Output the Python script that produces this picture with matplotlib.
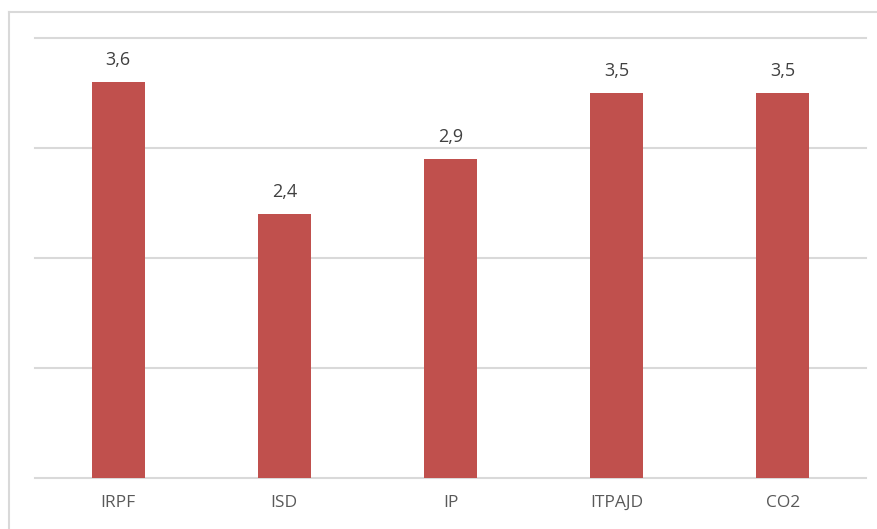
import matplotlib.pyplot as plt
from matplotlib.lines import Line2D

categories = ["IRPF", "ISD", "IP", "ITPAJD", "CO2"]
values = [3.6, 2.4, 2.9, 3.5, 3.5]
value_labels = ["3,6", "2,4", "2,9", "3,5", "3,5"]

plt.rcParams["font.family"] = ["Open Sans", "DejaVu Sans"]
W, H = 878, 529
fig = plt.figure(figsize=(W / 100, H / 100), dpi=100)
ax = fig.add_axes([35 / W, 1 - 478 / H, (866 - 35) / W, (478 - 38) / H])

# outer chart border: only left and top edges are visible
bx, by = 8.5 / W, 1 - 11.5 / H
fig.add_artist(Line2D([bx, bx], [0, by], transform=fig.transFigure, color="#d9d9d9", lw=1.5))
fig.add_artist(Line2D([bx, 1], [by, by], transform=fig.transFigure, color="#d9d9d9", lw=1.5))

x = range(len(categories))
bars = ax.bar(x, values, width=0.32, color="#C0504D", zorder=3)
for b, lab in zip(bars, value_labels):
    ax.text(b.get_x() + b.get_width() / 2, b.get_height() + 0.12, lab,
            ha="center", va="bottom", fontsize=13, color="#404040")

ax.set_xlim(-0.5, len(categories) - 0.5)
ax.set_ylim(0, 4)
ax.set_yticks([0, 1, 2, 3, 4])
ax.set_yticklabels([])
ax.set_xticks(list(x))
ax.set_xticklabels(categories, fontsize=12.5, color="#595959")
ax.tick_params(axis="both", length=0)
ax.tick_params(axis="x", pad=12)
ax.grid(axis="y", color="#d9d9d9", linewidth=1.5, zorder=0)
for gl in ax.get_ygridlines():
    gl.set_clip_on(False)
for s in ax.spines.values():
    s.set_visible(False)

fig.savefig("out.png", dpi=100)
